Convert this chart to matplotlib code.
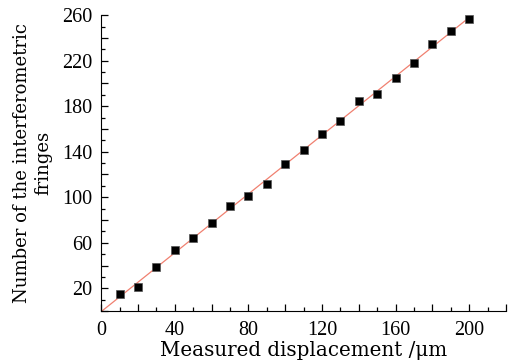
import numpy as np
import matplotlib.pyplot as plt
from matplotlib.ticker import MultipleLocator, FuncFormatter

# measured data
displacement = [10, 20, 30, 40, 50, 60, 70, 80, 90, 100,
                110, 120, 130, 140, 150, 160, 170, 180, 190, 200]
fringes = [15, 21, 38.6, 53.6, 64.4, 77.3, 92.2, 101.3, 111.8, 128.8,
           141.7, 155.5, 166.6, 184.4, 190.3, 205, 218.2, 234.8, 246.2, 256.8]

plt.rcParams['font.family'] = 'DejaVu Serif'

fig = plt.figure(figsize=(5.19, 3.6), dpi=100)
ax = fig.add_axes([0.195, 0.136, 0.78, 0.822])

# linear fit through the points
k, b = np.polyfit(displacement, fringes, 1)
xf = np.array([0, 200])
ax.plot(xf, k * xf + b, color='#f08070', lw=0.9, zorder=1)
ax.plot(displacement, fringes, 's', color='black', markersize=5.5,
        markeredgecolor='#555555', markeredgewidth=0.5, zorder=2)

ax.set_xlim(0, 220)
ax.set_ylim(0, 260)
ax.spines['top'].set_visible(False)
ax.spines['right'].set_visible(False)

ax.xaxis.set_major_locator(MultipleLocator(20))
ax.xaxis.set_minor_locator(MultipleLocator(10))
ax.yaxis.set_major_locator(MultipleLocator(20))
ax.yaxis.set_minor_locator(MultipleLocator(10))
ax.xaxis.set_major_formatter(FuncFormatter(lambda v, p: '%d' % v if v % 40 == 0 and v <= 200 else ''))
ax.yaxis.set_major_formatter(FuncFormatter(lambda v, p: '%d' % v if (v - 20) % 40 == 0 else ''))
ax.tick_params(which='major', direction='in', length=5, width=0.9, labelsize=14.5)
ax.tick_params(which='minor', direction='in', length=3, width=0.9)
ax.tick_params(axis='x', which='major', pad=7)
ax.tick_params(axis='y', which='major', pad=6.5)
for lab in ax.get_xticklabels() + ax.get_yticklabels():
    lab.set_family('Liberation Serif')

ax.set_xlabel('Measured displacement /μm', fontsize=14.3, labelpad=1)
ax.set_ylabel('Number of the interferometric\nfringes', fontsize=13, labelpad=7)

fig.savefig('out.png', dpi=100)
